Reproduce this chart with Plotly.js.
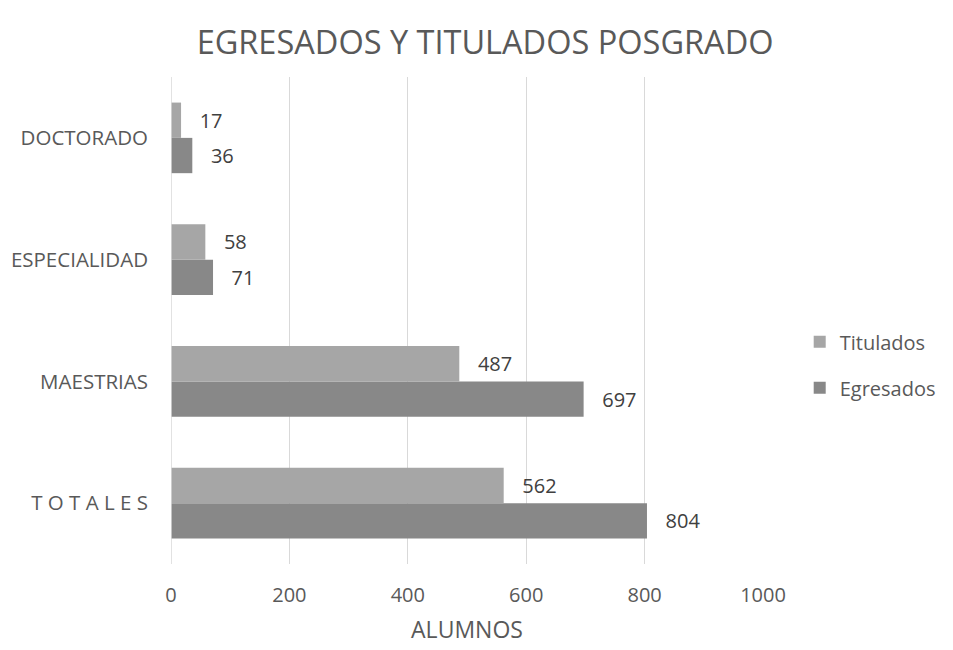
<!DOCTYPE html>
<html>
<head>
<meta charset="utf-8">
<script src="https://cdn.plot.ly/plotly-3.0.1.min.js"></script>
<style>
  body { margin: 0; background: #fff; }
  #chart { width: 953px; height: 650px; }
</style>
</head>
<body>
<div id="chart"></div>
<script>
// categorias de abajo hacia arriba
var categorias = ['T O T A L E S', 'MAESTRIAS', 'ESPECIALIDAD', 'DOCTORADO'];
var egresados = [804, 697, 71, 36];
var titulados = [562, 487, 58, 17];

var pad = '\u00a0\u00a0\u00a0';

var data = [
    {
        y: categorias,
        x: egresados,
        type: 'bar',
        orientation: 'h',
        name: 'Egresados',
        legendgroup: 'e',
        legendrank: 2,
        marker: { color: '#888888' },
        text: egresados.map(function (v) { return pad + v; }),
        textposition: 'outside',
        cliponaxis: false,
        textfont: { size: 20, color: '#404040' }
    },
    {
        y: categorias,
        x: titulados,
        type: 'bar',
        orientation: 'h',
        name: 'Titulados',
        legendgroup: 't',
        legendrank: 1,
        marker: { color: '#a6a6a6' },
        text: titulados.map(function (v) { return pad + v; }),
        textposition: 'outside',
        cliponaxis: false,
        textfont: { size: 20, color: '#404040' }
    }
];

var layout = {
    width: 953,
    height: 650,
    font: { family: 'Open Sans, sans-serif', size: 16, color: '#595959' },
    paper_bgcolor: '#ffffff',
    plot_bgcolor: '#ffffff',
    margin: { l: 171, r: 186, t: 77, b: 86 },
    barmode: 'group',
    bargap: 0.42,
    bargroupgap: 0,
    title: {
        text: 'EGRESADOS Y TITULADOS POSGRADO',
        font: { size: 32.5, color: '#595959' },
        x: 0.509,
        xanchor: 'center',
        y: 0.934,
        yanchor: 'middle'
    },
    xaxis: {
        range: [0, 1000],
        dtick: 200,
        showgrid: true,
        gridcolor: '#d9d9d9',
        gridwidth: 1,
        zeroline: false,
        showline: false,
        ticks: '',
        ticklabelstandoff: 17,
        tickfont: { size: 20 },
        title: { text: 'ALUMNOS', font: { size: 23 }, standoff: 14 }
    },
    yaxis: {
        type: 'category',
        showgrid: false,
        zeroline: false,
        showline: false,
        ticks: '',
        ticklabelstandoff: 22,
        tickfont: { size: 20.5 }
    },
    shapes: [
        { type: 'line', xref: 'x', yref: 'paper', x0: 0, x1: 0, y0: 0, y1: 1,
          line: { color: '#d9d9d9', width: 1.5 } }
    ],
    showlegend: true,
    legend: {
        traceorder: 'grouped',
        x: 1.062,
        xanchor: 'left',
        y: 0.409,
        yanchor: 'middle',
        font: { size: 20 },
        itemwidth: 30,
        tracegroupgap: 17
    }
};

Plotly.newPlot('chart', data, layout, { displayModeBar: false });
</script>
</body>
</html>
